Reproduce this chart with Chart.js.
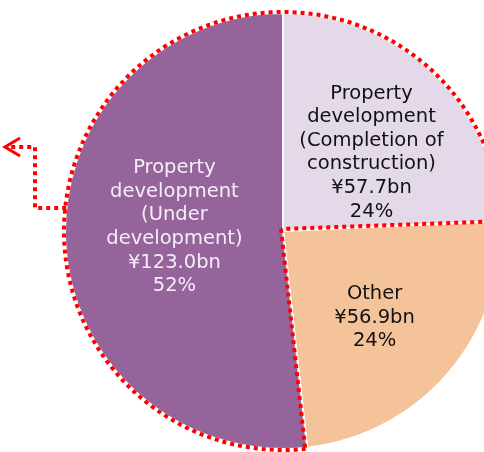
<!DOCTYPE html>
<html>
<head>
<meta charset="utf-8">
<script src="https://cdn.jsdelivr.net/npm/chart.js@4/dist/chart.umd.min.js"></script>
<style>
  html, body { margin: 0; padding: 0; background: #fff; overflow: hidden; }
  #wrap { width: 566px; height: 452px; position: relative; }
</style>
</head>
<body>
<div id="wrap"><canvas id="pie"></canvas></div>
<script>
// slices, clockwise from 12 o'clock
const categories = [
  ['Property', 'development', '(Completion of', 'construction)'],
  ['Other'],
  ['Property', 'development', '(Under', 'development)']
];
const values = [57.7, 56.9, 123.0]; // ¥bn
const sliceColors = ['#e4d9e8', '#f4c39a', '#95649b'];
const textColors = ['#111111', '#111111', '#f4eef6'];

// label anchors, as fractions of the radius from the pie centre
const labelAnchors = [[0.406, -0.36], [0.42, 0.398], [-0.498, -0.018]];

const total = values.reduce((a, b) => a + b, 0);

const sliceLabels = {
  id: 'sliceLabels',
  afterDatasetsDraw(chart) {
    const ctx = chart.ctx;
    const arcs = chart.getDatasetMeta(0).data;
    const cx = arcs[0].x, cy = arcs[0].y, R = arcs[0].outerRadius;

    ctx.save();
    // red dotted outline round the two property development slices
    ctx.strokeStyle = '#ff0000';
    ctx.lineWidth = 4;
    ctx.setLineDash([4, 4]);
    const a0 = arcs[2].startAngle;
    const a1 = arcs[0].endAngle + Math.PI * 2;
    ctx.beginPath();
    ctx.moveTo(cx - 2, cy - 2);
    ctx.lineTo(cx - 2 + Math.cos(a0) * R, cy + Math.sin(a0) * R);
    ctx.arc(cx, cy, R + 1, a0, a1, false);
    ctx.lineTo(cx - 2, cy - 2);
    ctx.stroke();

    // dotted arrow out to the left
    const yA = cy - 23;
    const xA = cx - Math.sqrt(R * R - 23 * 23);
    const xB = cx - R - 30, yB = cy - 84, xC = cx - R - 60;
    ctx.beginPath();
    ctx.moveTo(xA, yA);
    ctx.lineTo(xB, yA);
    ctx.lineTo(xB, yB);
    ctx.lineTo(xC + 4, yB);
    ctx.stroke();
    ctx.setLineDash([]);
    ctx.lineWidth = 3;
    ctx.beginPath();
    ctx.moveTo(xC + 15, yB - 9);
    ctx.lineTo(xC, yB);
    ctx.lineTo(xC + 15, yB + 9);
    ctx.stroke();

    // slice texts
    ctx.font = '19.5px "DejaVu Sans", Verdana, sans-serif';
    ctx.textAlign = 'center';
    ctx.textBaseline = 'middle';
    const lh = 23.6;
    arcs.forEach((arc, i) => {
      const lines = categories[i].concat([
        '¥' + values[i].toFixed(1) + 'bn',
        Math.round(values[i] / total * 100) + '%'
      ]);
      const x = cx + labelAnchors[i][0] * R;
      const y = cy + labelAnchors[i][1] * R;
      ctx.fillStyle = textColors[i];
      lines.forEach((t, k) => {
        ctx.fillText(t, x, y + (k - (lines.length - 1) / 2) * lh);
      });
    });
    ctx.restore();
  }
};

new Chart(document.getElementById('pie'), {
  type: 'pie',
  data: {
    labels: categories.map(c => c.join(' ')),
    datasets: [{
      data: values,
      backgroundColor: sliceColors,
      borderColor: '#ffffff',
      borderWidth: 2
    }]
  },
  options: {
    responsive: true,
    maintainAspectRatio: false,
    animation: false,
    layout: { padding: { top: 12, bottom: 2, left: 0, right: 0 } },
    plugins: {
      legend: { display: false },
      tooltip: { enabled: false }
    }
  },
  plugins: [sliceLabels]
});
</script>
</body>
</html>
